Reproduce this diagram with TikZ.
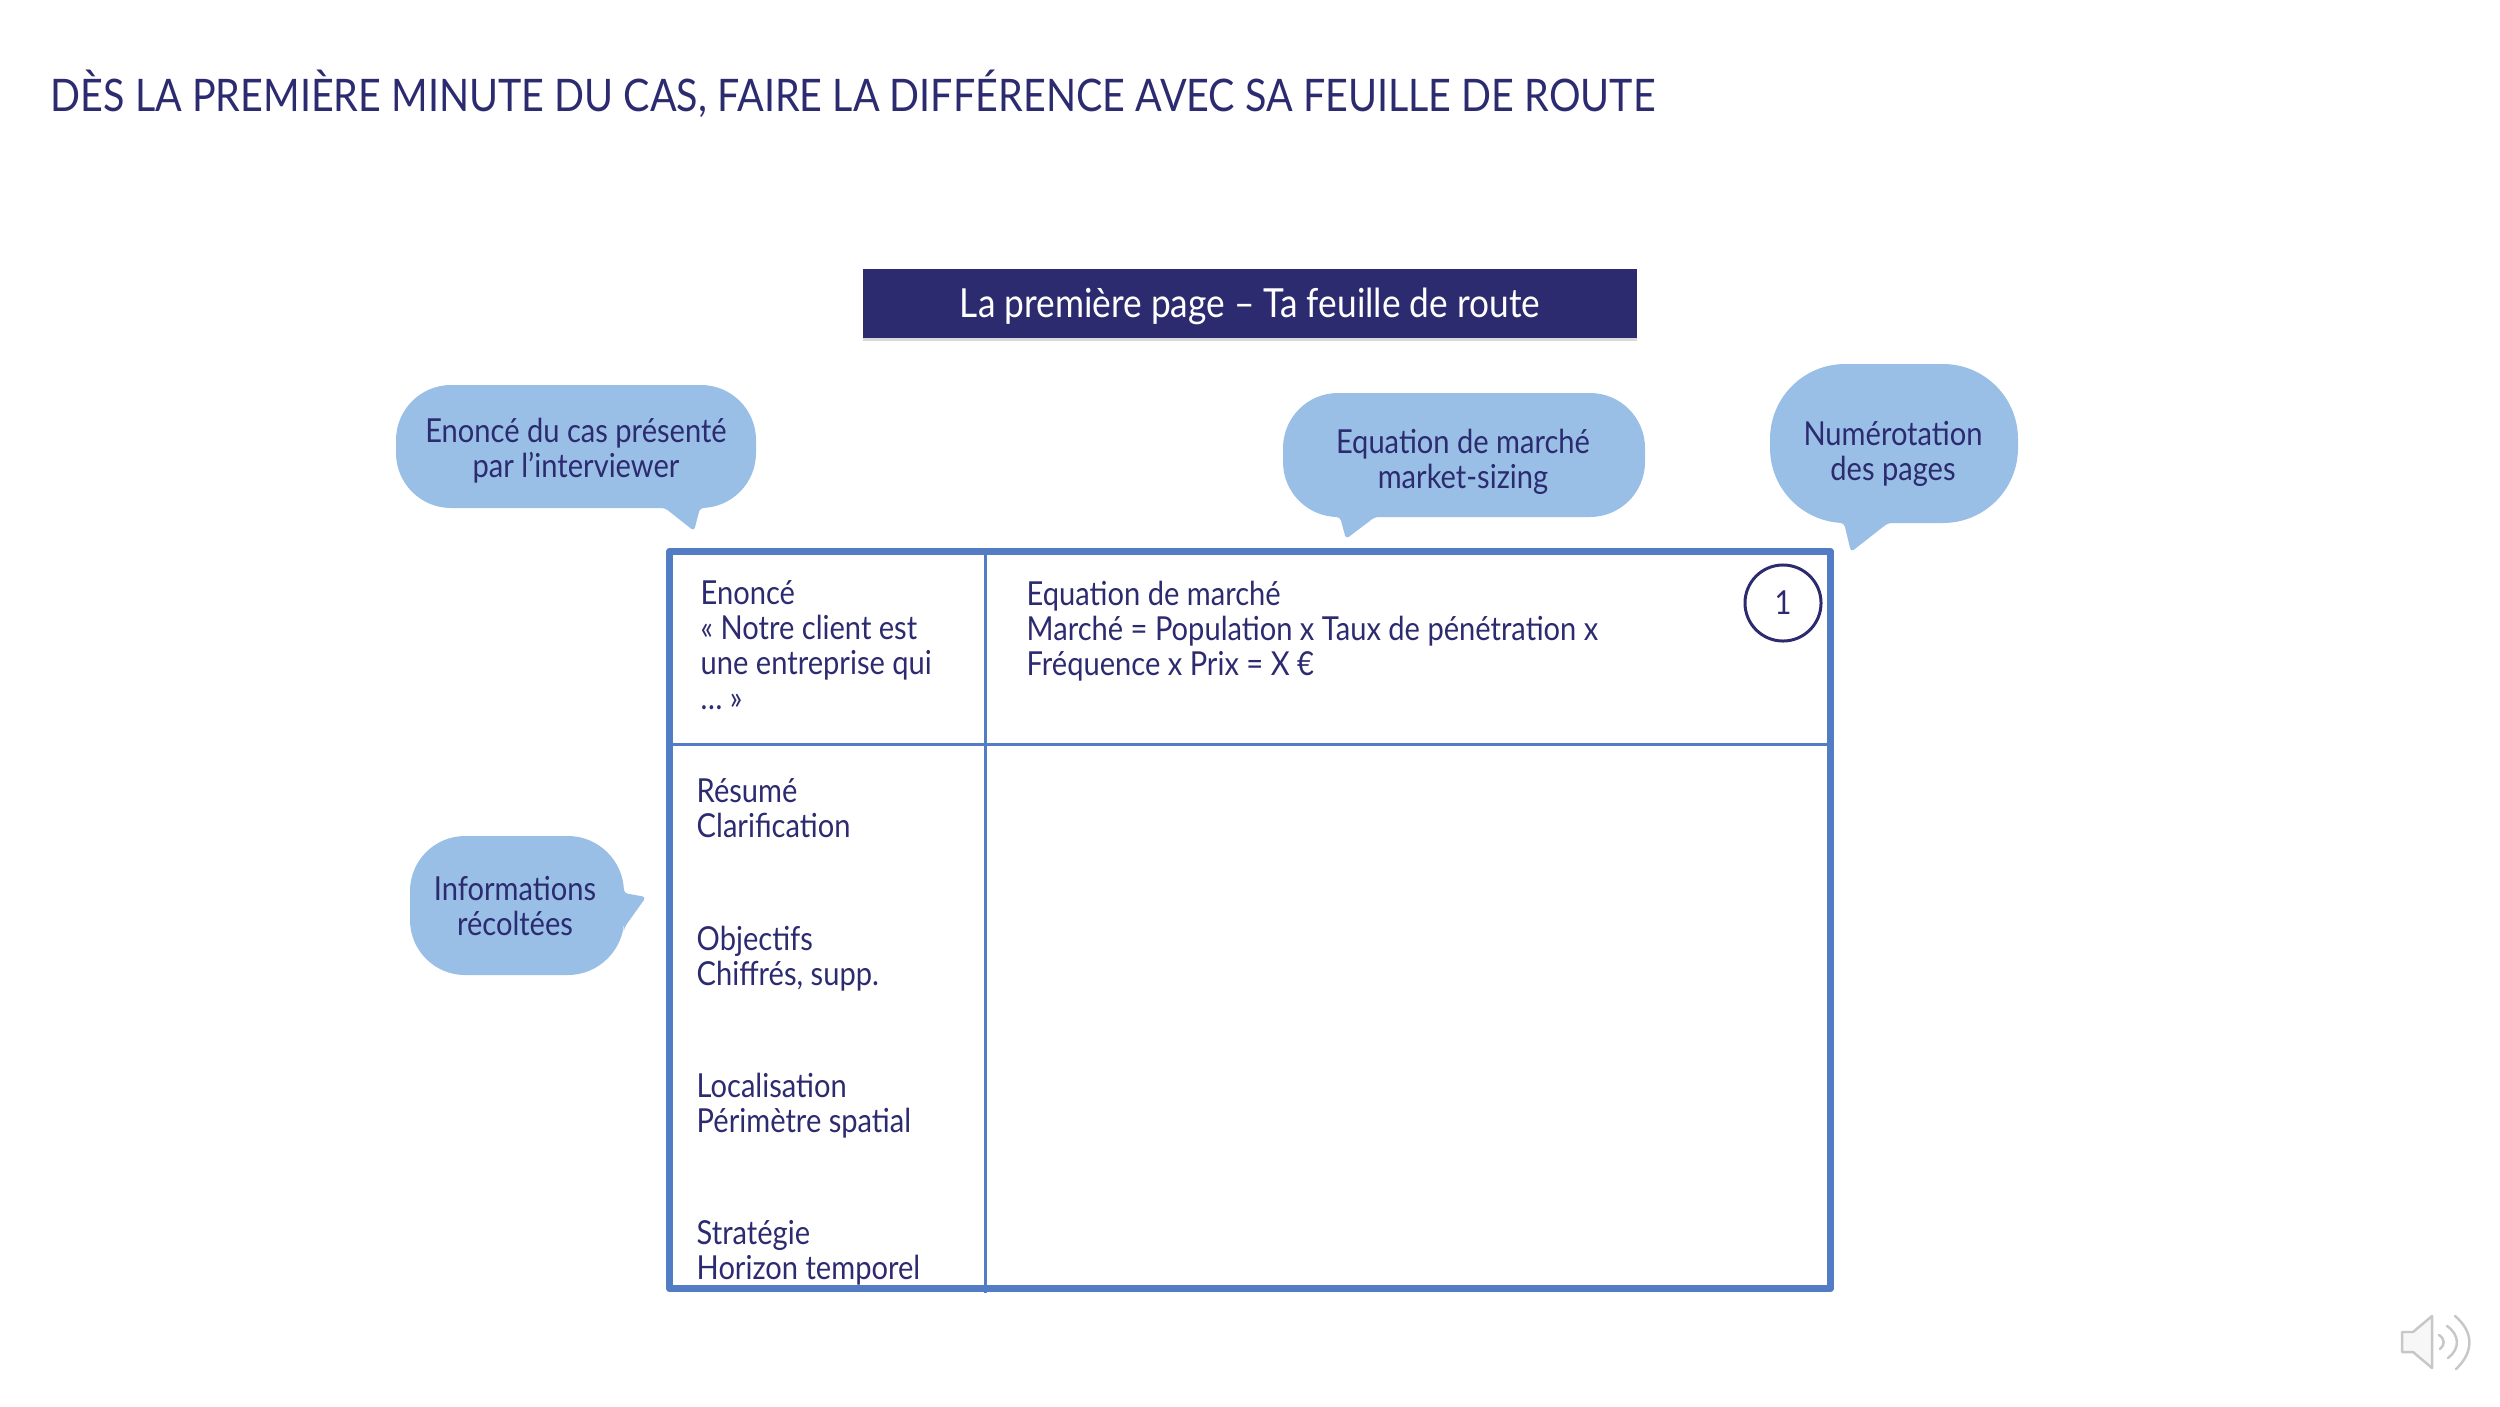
\documentclass[tikz,border=0pt]{standalone}
\usepackage{fontspec}
\setmainfont{Lato}[FakeStretch=0.88]
\definecolor{inkblue}{HTML}{2C2B70}
\definecolor{framblue}{HTML}{527DC4}
\definecolor{bubbleblue}{HTML}{99BFE6}
\tikzset{
    bodytext/.style={inner sep=0pt,text=inkblue,align=left,anchor=base west,font=\fontsize{9.4pt}{9.9pt}\selectfont},
    bubbletext/.style={inner sep=0pt,text=inkblue,align=center,anchor=base,font=\fontsize{9.4pt}{9.9pt}\selectfont},
    bubble/.style={fill=bubbleblue,draw=none},
    speaker/.style={draw=black!22,line width=0.7pt,line cap=round}
}

\begin{document}
\begin{tikzpicture}[x=0.01cm,y=-0.01cm]
    \useasboundingbox (0,0) rectangle (2500,1406);

    \node[inner sep=0pt,text=inkblue,anchor=base west,font=\fontsize{12.75pt}{15pt}\selectfont] (titre) at (50,111) {DÈS LA PREMIÈRE MINUTE DU CAS, FAIRE LA DIFFÉRENCE AVEC SA FEUILLE DE ROUTE};

    \fill[black!15] (863,338) rectangle (1637,341);
    \fill[inkblue] (863,269) rectangle (1637,338);
    \node[inner sep=0pt,text=white,anchor=base,font=\fontsize{11.4pt}{14pt}\selectfont] (bandeau) at (1250,317) {La première page -- Ta feuille de route};

    \fill[bubble] [rounded corners=0.55cm] (396,385) -- (756,385) -- (756,508) [rounded corners=1pt] -- (700,508) -- (694,531) -- (665,508) [rounded corners=0.55cm] -- (396,508) -- cycle;
    \fill[bubble] [rounded corners=0.55cm] (1283,393) -- (1645,393) -- (1645,517) [rounded corners=1pt] -- (1375,517) -- (1346,539) -- (1340,517) [rounded corners=0.55cm] -- (1283,517) -- cycle;
    \fill[bubble] [rounded corners=0.75cm] (1770,364) -- (2018,364) -- (2018,523) [rounded corners=1pt] -- (1888,523) -- (1851,552) -- (1844,523) [rounded corners=0.75cm] -- (1770,523) -- cycle;
    \fill[bubble] [rounded corners=0.55cm] (410,836) -- (623,836) [rounded corners=1pt] -- (624,893) -- (646,897) -- (624,928) [rounded corners=0.55cm] -- (623,975) -- (410,975) -- cycle;

    \node[bubbletext] (enonce bulle) at (576,477) {Enoncé du cas présenté\\par l’interviewer};
    \node[bubbletext] (marche bulle) at (1463,488) {Equation de marché\\market-sizing};
    \node[bubbletext] (pages bulle) at (1893,480) {Numérotation\\des pages};
    \node[bubbletext] (infos bulle) at (515,935) {Informations\\récoltées};

    \draw[framblue,line width=2.1pt,line join=round] (669.5,551.5) rectangle (1830.5,1288.5);
    \draw[framblue,line width=0.85pt] (985,551.5) -- (985,1293);
    \draw[framblue,line width=0.85pt] (669.5,744) -- (1830.5,744);

    \node[bodytext] (enonce) at (700,709) {Enoncé\\« Notre client est\\une entreprise qui\\… »};
    \node[bodytext] (marche) at (1026,675) {Equation de marché\\Marché = Population x Taux de pénétration x\\Fréquence x Prix = X €};
    \node[bodytext] (resume) at (696,837) {Résumé\\Clarification};
    \node[bodytext] (objectifs) at (696,985) {Objectifs\\Chiffrés, supp.};
    \node[bodytext] (localisation) at (696,1132) {Localisation\\Périmètre spatial};
    \node[bodytext] (strategie) at (696,1279) {Stratégie\\Horizon temporel};

    \node[circle,draw=inkblue,line width=0.85pt,minimum size=0.76cm,inner sep=0pt,text=inkblue,font=\fontsize{9.4pt}{12pt}\selectfont] (numero) at (1783,603) {1};

    \draw[speaker,line join=round,fill=black!3] (2402,1332) -- (2413,1332) -- (2432,1316) -- (2432,1368) -- (2413,1352) -- (2402,1352) -- cycle;
    \draw[speaker] (2439,1335) .. controls (2445,1339) and (2445,1345) .. (2440,1349);
    \draw[speaker] (2447,1326) .. controls (2460,1335) and (2460,1349) .. (2448,1358);
    \draw[speaker] (2455,1316) .. controls (2474,1332) and (2474,1352) .. (2456,1369);
\end{tikzpicture}
\end{document}
